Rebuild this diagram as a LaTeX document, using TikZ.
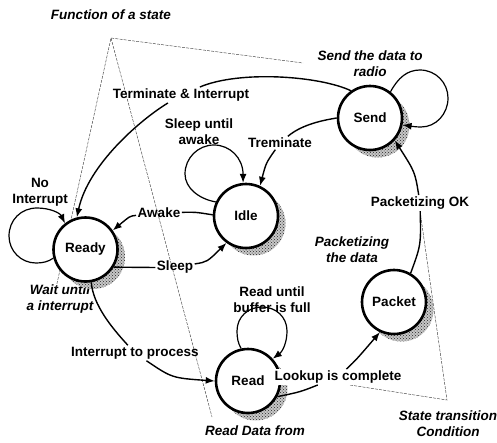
\documentclass[tikz,border=0pt]{standalone}
\usepackage{fontspec}
\setmainfont{Liberation Sans}
\usetikzlibrary{arrows.meta,patterns}
\begin{document}
\begin{tikzpicture}[x=1pt,y=1pt,
  every node/.style={font=\fontsize{13.5}{16}\selectfont\bfseries},
  state/.style={circle, draw, line width=2.6pt, minimum size=64pt, inner sep=0pt, fill=white,
     preaction={draw=none, fill=black!22, transform canvas={shift={(7.5pt,-7.5pt)}}},
     preaction={draw=none, pattern=crosshatch dots, pattern color=black!85,
       transform canvas={shift={(7.5pt,-7.5pt)}}}},
  lbl/.style={inner sep=1.5pt, align=center},
  note/.style={inner sep=1pt, align=center, font=\fontsize{13.5}{16}\selectfont\bfseries\itshape},
  edge/.style={line width=1.4pt, -{Latex[length=9pt,width=7pt]}},
  seg/.style={line width=1.4pt},
  loopedge/.style={line width=1.2pt, -{Latex[length=9pt,width=7pt]}},
  callout/.style={line width=0.45pt, dash pattern=on 3pt off 1.2pt, black!75}]
\useasboundingbox (0,0) rectangle (497,-442);

% callout notes
\node[note] (fos) at (111,-15) {Function of a state};
\node[note] (sdr) at (370,-64) {Send the data to\\radio};
\node[note] (wui) at (60,-299) {Wait until\\a interrupt};
\node[note] (ptd) at (352,-250) {Packetizing\\the data};
\node[note] (rdf) at (255,-431) {Read Data from};
\node[note] (stc) at (448,-424) {State transition\\Condition};

\coordinate (fa) at (111,-38);
\coordinate (fa1) at (56,-288);
\coordinate (fa2) at (212,-417);
\coordinate (fa3) at (303,-63);
\draw[callout] (fa1) -- (fa) -- (fa3);
\draw[callout] (fa) -- (fa2);
\coordinate (sa) at (447,-400);
\coordinate (sa1) at (350,-385);
\coordinate (sa2) at (421,-218);
\draw[callout] (sa1) -- (sa) -- (sa2);

% states
\node[state] (Ready) at (85.5,-249.5) {Ready};
\node[state] (Idle) at (246,-216) {Idle};
\node[state] (Send) at (370,-118) {Send};
\node[state] (Packet) at (394,-302) {Packet};
\node[state] (Read) at (248,-381) {Read};

% transition labels
\node[lbl] (noint) at (40,-192) {No\\Interrupt};
\node[lbl] (TI) at (181,-95) {Terminate \& Interrupt};
\node[lbl] (slu) at (199,-132) {Sleep until\\awake};
\node[lbl] (Trem) at (280,-143) {Treminate};
\node[lbl] (Awake) at (159,-213) {Awake};
\node[lbl] (Sleep) at (175,-267) {Sleep};
\node[lbl] (PO) at (420,-203) {Packetizing OK};
\node[lbl] (rub) at (272,-300) {Read until\\buffer is full};
\node[lbl] (ITP) at (135,-353) {Interrupt to process};
\node[lbl, fill=white] (LC) at (338,-377) {Lookup is complete};

% self loops
\draw[loopedge] (Ready.195) .. controls (48,-262) and (42,-263) .. (36,-263)
  .. controls (21,-263) and (9,-251) .. (9,-236)
  .. controls (9,-220) and (21,-208) .. (37,-208)
  .. controls (50,-208) and (60,-213) .. (Ready.128);
\draw[loopedge] (Idle.155) .. controls (199,-199) and (185,-188) .. (185,-174)
  .. controls (185,-158) and (198,-145) .. (214,-145)
  .. controls (230,-145) and (243,-158) .. (Idle.95);
\draw[loopedge] (Send.52) .. controls (398,-78) and (407,-70) .. (420,-70)
  .. controls (436,-70) and (448,-83) .. (448,-98)
  .. controls (448,-114) and (436,-127) .. (421,-127)
  .. controls (415,-127) and (410,-126) .. (Send.-12);
\draw[loopedge] (Read.102) .. controls (238,-343) and (237,-338) .. (237,-331)
  .. controls (237,-317) and (248,-307) .. (262,-307)
  .. controls (276,-307) and (287,-317) .. (287,-331)
  .. controls (287,-342) and (283,-351) .. (Read.42);

% transitions
\draw[seg] (Send.125) .. controls (320,-76) and (240,-70) .. (TI);
\draw[edge] (TI) .. controls (140,-120) and (88,-165) .. (Ready.105);
\draw[seg] (Send.180) .. controls (318,-121) and (300,-126) .. (Trem);
\draw[edge] (Trem) .. controls (266,-163) .. (Idle.65);
\draw[seg] (Ready.-32) .. controls (135,-268) .. (Sleep);
\draw[edge] (Sleep) .. controls (207,-262) .. (Idle.234);
\draw[seg] (Idle.178) .. controls (195,-212) .. (Awake);
\draw[edge] (Awake) .. controls (130,-216) .. (Ready.35);
\draw[seg] (Packet.60) .. controls (421,-245) .. (PO);
\draw[edge] (PO) .. controls (415,-172) .. (Send.-42);
\draw[seg] (Ready.-80) .. controls (93,-305) and (112,-328) .. (ITP);
\draw[edge] (ITP) .. controls (172,-378) .. (Read.180);
\draw[seg] (Read.-28) .. controls (300,-392) .. (LC);
\draw[edge] (LC) .. controls (356,-360) .. (Packet.245);
\end{tikzpicture}
\end{document}
